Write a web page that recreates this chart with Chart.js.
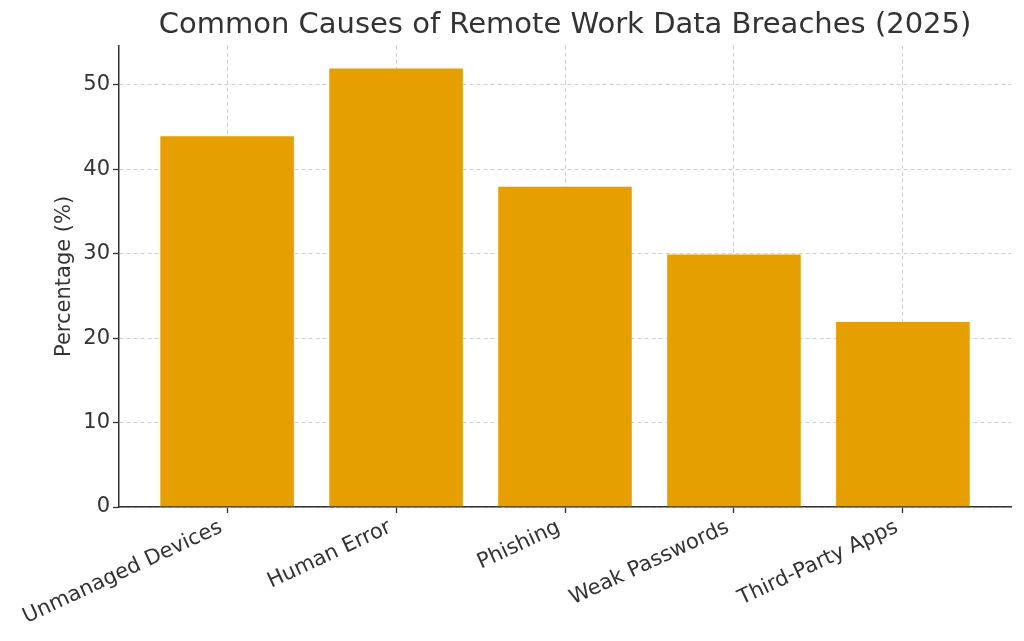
<!DOCTYPE html>
<html>
<head>
<meta charset="utf-8">
<script src="https://cdn.jsdelivr.net/npm/chart.js@4"></script>
<style>
  html, body { margin: 0; padding: 0; background: #fff; }
  #wrap { width: 1024px; height: 641px; }
</style>
</head>
<body>
<div id="wrap"><canvas id="myChart" width="1024" height="641"></canvas></div>
<script>
var categories = ['Unmanaged Devices', 'Human Error', 'Phishing', 'Weak Passwords', 'Third-Party Apps'];
var percentages = [44, 52, 38, 30, 22];
var yTicks = [0, 10, 20, 30, 40, 50];

var barColor = '#E69F00';
var textColor = '#333333';
var gridColor = '#cfcfcf';

// bars placed on a linear x axis so the side margins match the original
var points = [];
for (var i = 0; i < categories.length; i++) {
    points.push({ x: i, y: percentages[i] });
}

const data = {
    datasets: [{
        label: 'Percentage',
        data: points,
        backgroundColor: barColor,
        borderColor: 'rgba(255, 235, 200, 0.6)',
        borderWidth: 0.8,
        categoryPercentage: 1.0,
        barPercentage: 0.8
    }]
};

const config = {
    type: 'bar',
    data,
    options: {
        responsive: false,
        animation: false,
        layout: { padding: { left: 0, right: 13, top: 0, bottom: 0 } },
        scales: {
            x: {
                type: 'linear',
                offset: false,
                min: -0.64,
                max: categories.length - 1 + 0.64,
                z: 1,
                afterFit: function (scale) { scale.height = 134; },
                afterBuildTicks: function (scale) {
                    scale.ticks = categories.map(function (c, idx) { return { value: idx }; });
                },
                ticks: {
                    color: textColor,
                    font: { family: 'DejaVu Sans', size: 21 },
                    minRotation: 25,
                    maxRotation: 25,
                    autoSkip: false,
                    padding: 2,
                    labelOffset: -6,
                    callback: function (value) { return categories[value]; }
                },
                grid: {
                    offset: false,
                    color: gridColor,
                    lineWidth: 1,
                    tickLength: 6,
                    tickColor: textColor,
                    tickWidth: 1.3
                },
                border: { display: true, color: textColor, width: 1.5, dash: [4, 3] }
            },
            y: {
                min: 0,
                max: 54.6,
                z: 1,
                afterFit: function (scale) { scale.width = 119; },
                afterBuildTicks: function (scale) {
                    scale.ticks = yTicks.map(function (v) { return { value: v }; });
                },
                ticks: {
                    color: textColor,
                    font: { family: 'DejaVu Sans', size: 21 },
                    padding: 3
                },
                grid: {
                    color: gridColor,
                    lineWidth: 1,
                    tickLength: 6,
                    tickColor: textColor,
                    tickWidth: 1.3
                },
                border: { display: true, color: textColor, width: 1.5, dash: [4, 3] },
                title: {
                    display: true,
                    text: 'Percentage (%)',
                    color: textColor,
                    font: { family: 'DejaVu Sans', size: 21 },
                    padding: { top: 52, bottom: 0 }
                }
            }
        },
        plugins: {
            legend: { display: false },
            tooltip: { enabled: false },
            title: {
                display: true,
                fullSize: false,
                text: 'Common Causes of Remote Work Data Breaches (2025)',
                color: textColor,
                font: { family: 'DejaVu Sans', size: 29, weight: 'normal' },
                padding: { top: 8, bottom: 3 }
            }
        }
    }
};

const myChart = new Chart(document.getElementById('myChart'), config);
</script>
</body>
</html>
